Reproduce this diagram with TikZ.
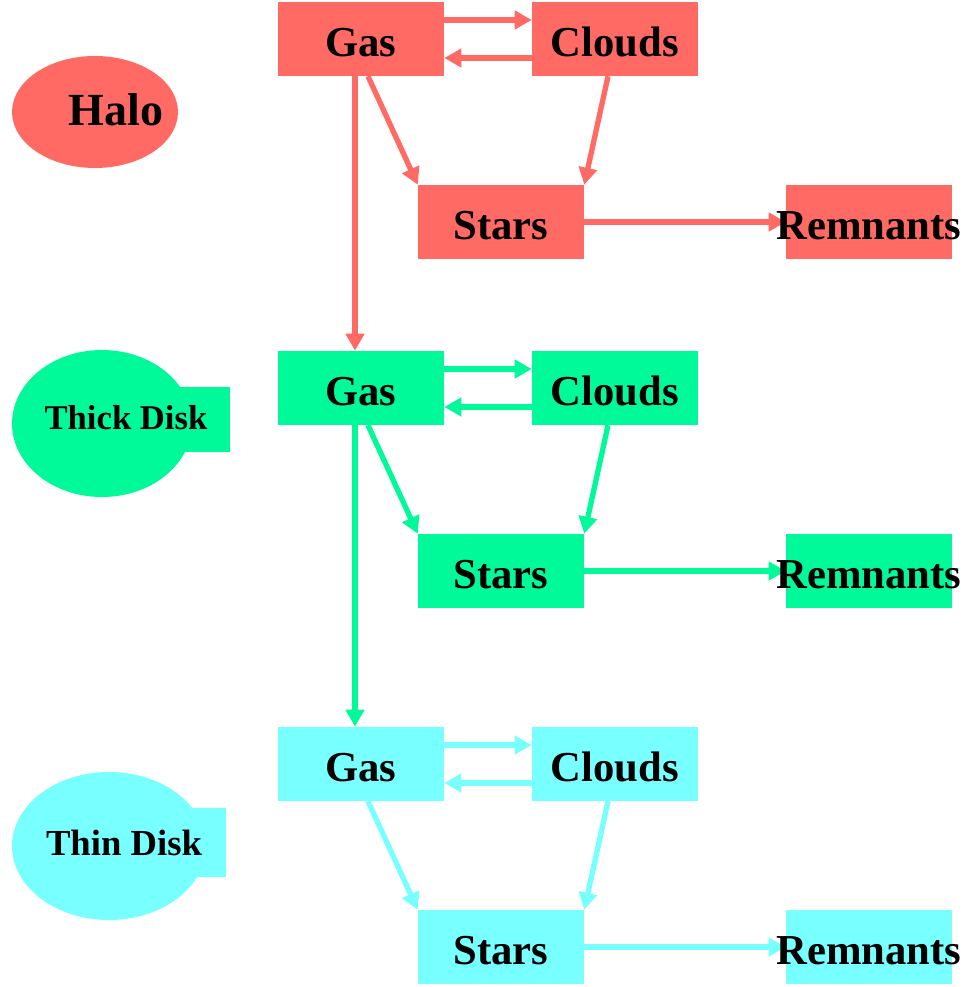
\documentclass[tikz,border=0pt]{standalone}
\usepackage{fontspec}
\setmainfont{Liberation Serif}
\usetikzlibrary{shapes.geometric,arrows.meta,calc}
\definecolor{halored}{HTML}{FF6A64}
\definecolor{thickgreen}{HTML}{00FA9A}
\definecolor{thincyan}{HTML}{78FFFF}
\tikzset{
  boxnode/.style={rectangle, draw=none, minimum width=124.5pt, minimum height=55.5pt,
    inner sep=0pt, font=\bfseries\fontsize{32}{32}\selectfont, text=black,
    text height=27pt, text depth=0.2pt},
  remnode/.style={boxnode},
  flow/.style={line width=4pt, -{Triangle[length=12.75pt,width=13.5pt]}},
  regionlabel/.style={inner sep=0pt, text=black},
}
\begin{document}
\begin{tikzpicture}[x=0.75pt,y=-0.75pt]
\useasboundingbox (0,0) rectangle (970,987);

% region markers
\node[ellipse, fill=halored, minimum width=124.5pt, minimum height=84pt, inner sep=0pt] (haloE) at (95,112) {};
\node[regionlabel, font=\bfseries\fontsize{34.5}{34.5}\selectfont] (haloT) at (116,110) {Halo};

\node[ellipse, fill=thickgreen, minimum width=135pt, minimum height=110.25pt, inner sep=0pt] (thickE) at (102,423.5) {};
\node[rectangle, fill=thickgreen, minimum width=37.5pt, minimum height=48.75pt, inner sep=0pt] (thickR) at (205,419.5) {};
\node[regionlabel, font=\bfseries\fontsize{26}{26}\selectfont] (thickT) at (126,418) {Thick Disk};

\node[ellipse, fill=thincyan, minimum width=145.5pt, minimum height=111pt, inner sep=0pt] (thinE) at (109,846) {};
\node[rectangle, fill=thincyan, minimum width=25.5pt, minimum height=51.75pt, inner sep=0pt] (thinR) at (209,842.5) {};
\node[regionlabel, font=\bfseries\fontsize{27.5}{27.5}\selectfont] (thinT) at (124,843) {Thin Disk};

% rows
\foreach \i/\dy/\col in {1/0/halored, 2/349/thickgreen, 3/725/thincyan}{
  \node[boxnode, fill=\col] (g\i) at (361,39+\dy) {Gas};
  \node[boxnode, fill=\col] (c\i) at (615,39+\dy) {Clouds};
  \node[boxnode, fill=\col] (s\i) at (501,222+\dy) {Stars};
  \node[remnode, fill=\col] (r\i) at (869,222+\dy) {};
  \draw[flow, draw=\col, fill=\col] ($(g\i.east)+(0,-19)$) -- ($(c\i.west)+(0,-19)$);
  \draw[flow, draw=\col, fill=\col] ($(c\i.west)+(0,19)$) -- ($(g\i.east)+(0,19)$);
  \draw[flow, draw=\col, fill=\col] ($(g\i.south)+(7,0)$) -- (s\i.north west);
  \draw[flow, draw=\col, fill=\col] ($(c\i.south)+(-7,0)$) -- (s\i.north east);
  \draw[flow, draw=\col, fill=\col] (s\i.east) -- (r\i.west);
}
% remnant labels on top of arrow tips
\foreach \i/\dy in {1/0, 2/349, 3/725}{
  \node[remnode] (rl\i) at (869,222+\dy) {Remnants};
}

% vertical links between components
\draw[flow, draw=halored, fill=halored] ($(g1.south)+(-6,0)$) -- ($(g2.north)+(-6,0)$);
\draw[flow, draw=thickgreen, fill=thickgreen] ($(g2.south)+(-6,0)$) -- ($(g3.north)+(-6,0)$);
\end{tikzpicture}
\end{document}
